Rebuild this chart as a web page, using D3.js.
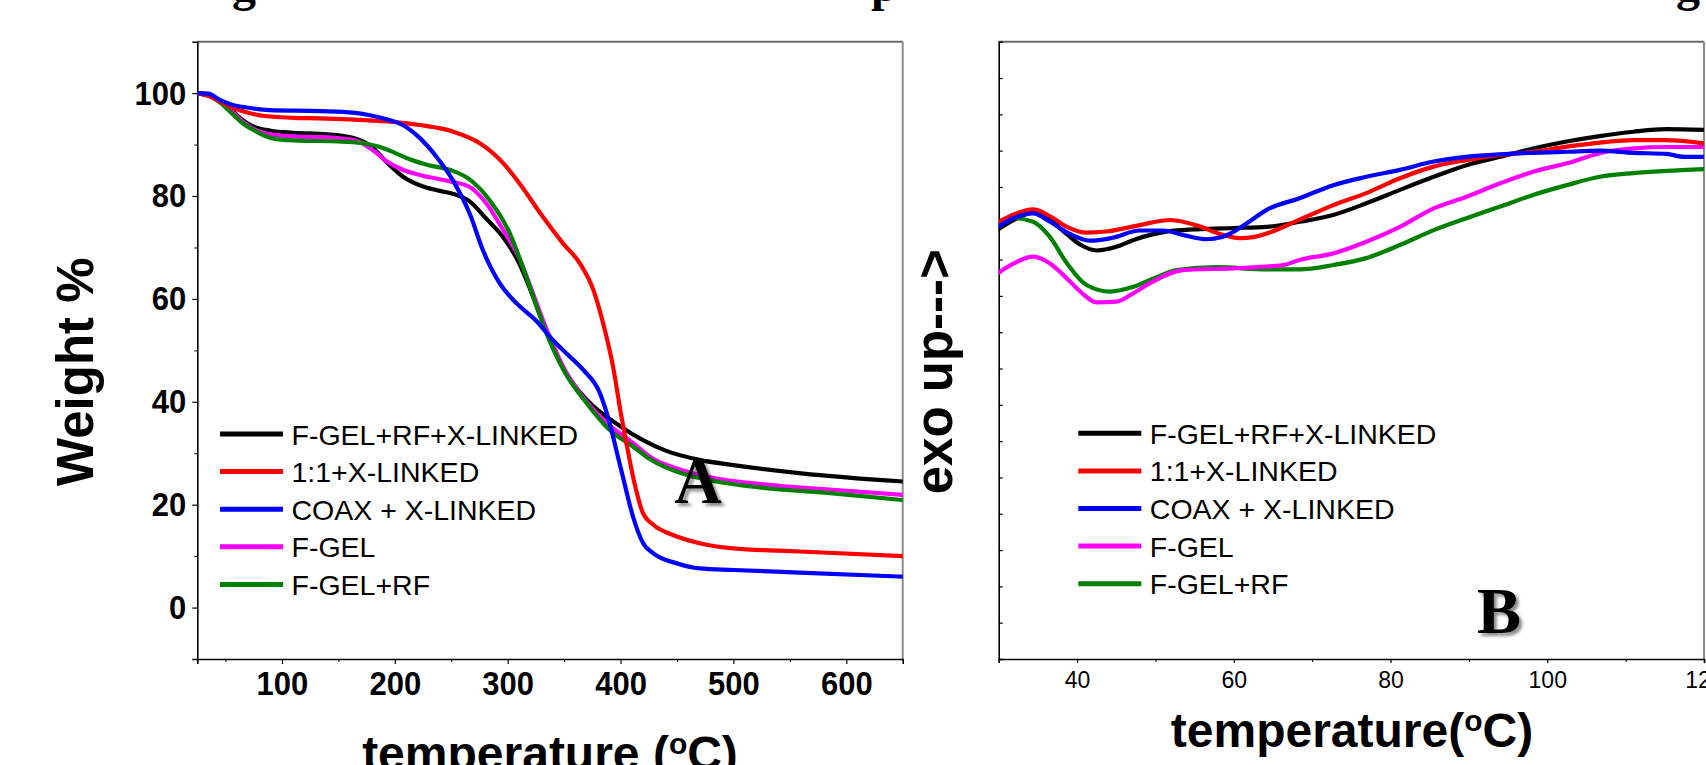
<!DOCTYPE html>
<html>
<head>
<meta charset="utf-8">
<script src="https://cdn.jsdelivr.net/npm/d3@7"></script>
<style>
  html, body { margin: 0; padding: 0; background: #fff; }
  svg { display: block; }
</style>
</head>
<body>
<svg id="chart" width="1706" height="765"></svg>
<script>
// ---------------- DATA ----------------
const seriesNames = ["F-GEL+RF+X-LINKED", "1:1+X-LINKED", "COAX + X-LINKED", "F-GEL", "F-GEL+RF"];
const seriesColors = ["#000000", "#ff0000", "#0000ff", "#ff00ff", "#008000"];

// Panel A : TGA, [temperature °C, weight %]
const tgaBlack = [[25,100],[35,99.5],[45,98.5],[55,96.8],[65,94.8],[75,93.5],[90,92.7],[110,92.3],[140,92],[165,91.2],[180,89.5],[193,86.5],[207,83.8],[222,82.1],[240,81],[252,80.4],[266,79],[281,75.6],[296,72],[310,67],[317,63.5],[335,53.3],[350,46.2],[370,40.4],[400,35.2],[440,30.5],[470,28.7],[500,27.7],[560,26.1],[650,24.5]];
const tgaRed = [[25,100],[35,99.5],[45,98.4],[54,97.4],[70,96.2],[83,95.6],[110,95.2],[134,95.1],[160,94.9],[193,94.5],[222,93.8],[252,92.5],[275,90.3],[296,86.4],[311,82.3],[331,76],[349,70.8],[364,66.9],[376,61.7],[384.5,55.3],[393.4,46.8],[400.8,37.1],[405,32.2],[411,25.5],[420,18.3],[429,16.1],[446.5,14.1],[470,12.5],[500,11.5],[559,10.9],[650,10.0]];
const tgaBlue = [[25,100],[34.6,99.9],[45,98.7],[55,97.8],[69,97.2],[89,96.7],[134,96.5],[163,96.2],[178,95.7],[193,94.9],[207,93.8],[222,91.3],[237,87.6],[251.6,83],[266.5,76.5],[278,69.5],[293,63],[310,58.7],[325,55.8],[340,52],[355,48.8],[367,46.2],[381.7,41.7],[390.4,35.8],[396.3,30.6],[402,25.5],[411,17.7],[420,12.5],[428.8,10.6],[449.5,8.6],[470,7.6],[500,7.3],[558.6,6.8],[650,6.0]];
const tgaMagenta = [[25,100],[35,99.5],[45,98.3],[55,96.5],[65,94.5],[75,93],[90,92],[110,91.6],[140,91.4],[165,90.8],[180,89],[193,86.7],[207,85.1],[222,84.1],[250,82.8],[266,81.8],[281,78.6],[296,73.4],[311,67.6],[320,62.5],[335,53.8],[350,46.5],[370,40],[390,35.5],[411,32],[426,29.3],[458,26.5],[485,25.1],[529,23.9],[588,22.9],[650,21.9]];
const tgaGreen = [[25,100],[35,99.6],[45,98.2],[55,96.2],[65,94.2],[75,92.8],[90,91.3],[110,90.8],[150,90.6],[170,90.3],[190,89.3],[200,88.4],[215,87],[230,86],[250,85],[266.5,83.2],[284,79.2],[301.8,72.8],[316.5,64.3],[334.4,53.3],[349.5,46.2],[370,39.7],[390.4,34.5],[411,31.3],[425.8,28.9],[458.3,25.8],[485,24.5],[529,23.2],[588,22.2],[650,20.9]];

// Panel B : DSC, [temperature °C, heat flow (a.u., exo up)]
const dscBlack = [[30,11.84],[32,12.1],[34.4,12.29],[36.5,12.1],[38.7,11.7],[40.5,11.4],[42.5,11.25],[45,11.35],[47.2,11.54],[51.4,11.77],[55.7,11.84],[60,11.87],[64.2,11.9],[68.4,12.04],[72.7,12.23],[76.9,12.55],[81.2,12.92],[85.5,13.28],[89.7,13.6],[94,13.83],[98.2,14.06],[102.5,14.25],[106.7,14.4],[111,14.52],[115.2,14.59],[120,14.57]];
const dscRed = [[30,12.04],[32,12.25],[34.4,12.38],[36.5,12.2],[38.7,11.9],[41.2,11.74],[44,11.78],[48,11.95],[51.9,12.09],[55.7,11.91],[58,11.72],[60.8,11.59],[62.5,11.62],[64.2,11.72],[68.4,12.1],[72.7,12.5],[76.9,12.83],[81.2,13.24],[85.5,13.56],[89.7,13.74],[94,13.88],[98.2,13.97],[102.5,14.11],[106.7,14.22],[111,14.29],[115.2,14.29],[120,14.2]];
const dscBlue = [[30,11.91],[32,12.15],[34.4,12.27],[36.5,12.05],[38.7,11.75],[41.7,11.52],[44.5,11.6],[48,11.8],[51,11.8],[53.5,11.68],[56.5,11.56],[58.5,11.62],[60,11.77],[62,12.05],[64.2,12.37],[68.4,12.69],[72.7,13.05],[76.9,13.28],[81.2,13.47],[85.5,13.7],[89.7,13.83],[94,13.9],[98.2,13.94],[102.5,13.97],[106.7,14.0],[111,13.94],[115.2,13.91],[117.5,13.83],[120,13.83]];
const dscMagenta = [[30,10.64],[32,10.9],[34.4,11.08],[36.5,10.9],[38.7,10.48],[40.5,10.1],[42.5,9.82],[45,9.84],[47,10.05],[49.3,10.35],[53.5,10.71],[60,10.76],[66.3,10.85],[68.4,10.99],[72.7,11.17],[76.9,11.49],[81.2,11.9],[85.5,12.41],[89.7,12.73],[94,13.1],[98.2,13.42],[102.5,13.65],[106.7,13.93],[111,14.06],[115.2,14.1],[120,14.1]];
const dscGreen = [[30,12.02],[31.9,12.14],[34.4,12.04],[36.5,11.63],[38.7,10.9],[41.2,10.3],[44.2,10.12],[47.2,10.25],[50,10.5],[52.7,10.71],[57.8,10.79],[64.2,10.73],[68.4,10.73],[72.7,10.85],[76.9,11.04],[81.2,11.4],[85.5,11.81],[89.7,12.14],[94,12.46],[98.2,12.78],[102.5,13.05],[106.7,13.28],[111,13.38],[115.2,13.44],[120,13.49]];

// Axis ticks
const aXTicks = [100, 200, 300, 400, 500, 600];
const aXMinor = [50, 150, 250, 350, 450, 550];
const aYTicks = [0, 20, 40, 60, 80, 100];
const aYMinor = [10, 30, 50, 70, 90];
const bXTicks = [40, 60, 80, 100, 120];
const bXMinor = [50, 70, 90, 110];
const bYTicks = [1,2,3,4,5,6,7,8,9,10,11,12,13,14,15,16];

// Caption fragments (cut-off line above the figure)
const captionBits = [["g", 244, "middle"], ["p", 871, "start"], ["g", 1688, "middle"]];

// ---------------- DRAW ----------------
const svg = d3.select("#chart");
const SANS = "'Liberation Sans', Arial, sans-serif";
const SERIF = "'Liberation Serif', 'Times New Roman', serif";

const defs = svg.append("defs");
const f = defs.append("filter").attr("id", "shadow").attr("x", "-20%").attr("y", "-20%").attr("width", "150%").attr("height", "150%");
f.append("feDropShadow").attr("dx", 3).attr("dy", 3).attr("stdDeviation", 1.8)
  .attr("flood-color", "#000").attr("flood-opacity", 0.45);

// caption fragments
svg.append("g").selectAll("text").data(captionBits).join("text")
  .attr("x", d => d[1]).attr("y", 1)
  .attr("text-anchor", d => d[2])
  .attr("font-family", SERIF).attr("font-weight", "bold").attr("font-size", 48)
  .text(d => d[0]);

function panel(opts) {
  const { left, right, top, bottom, xDomain, yDomain, series, id } = opts;
  const x = d3.scaleLinear().domain(xDomain).range([left, right]);
  const y = d3.scaleLinear().domain(yDomain).range([bottom, top]);
  const g = svg.append("g");

  defs.append("clipPath").attr("id", "clip" + id)
    .append("rect").attr("x", left).attr("y", top).attr("width", right - left).attr("height", bottom - top);

  // frame top/right (gray)
  g.append("line").attr("x1", left).attr("x2", right).attr("y1", top).attr("y2", top)
    .attr("stroke", "#6a6a6a").attr("stroke-width", 2);
  g.append("line").attr("x1", right).attr("x2", right).attr("y1", top).attr("y2", bottom)
    .attr("stroke", "#8a8a8a").attr("stroke-width", 2);

  // x axis
  const xa = g.append("g").attr("transform", `translate(0,${bottom})`)
    .call(d3.axisBottom(x).tickValues(opts.xTicks).tickSize(opts.xTickLen).tickPadding(opts.xPad).tickFormat(d3.format("d")));
  xa.select(".domain").attr("stroke", "#000").attr("stroke-width", 1.6);
  xa.selectAll(".tick line").attr("stroke", "#000").attr("stroke-width", 1.2);
  xa.selectAll("text").attr("font-family", SANS).attr("font-size", opts.tickFont)
    .attr("font-weight", opts.tickWeight).attr("fill", "#000")
    .attr("dy", null).attr("y", opts.xLabelY / opts.tickScale)
    .attr("transform", `scale(1,${opts.tickScale})`);
  g.append("g").attr("transform", `translate(0,${bottom})`)
    .call(d3.axisBottom(x).tickValues(opts.xMinor).tickSize(3).tickFormat(""))
    .call(s => s.select(".domain").remove())
    .selectAll(".tick line").attr("stroke", "#000").attr("stroke-width", 1);

  // y axis
  const ya = g.append("g").attr("transform", `translate(${left},0)`)
    .call(d3.axisLeft(y).tickValues(opts.yTicks).tickSize(opts.yTickLen).tickPadding(opts.yPad)
      .tickFormat(opts.yLabels ? d3.format("d") : ""));
  ya.select(".domain").attr("stroke", "#000").attr("stroke-width", 1.6);
  ya.selectAll(".tick line").attr("stroke", "#000").attr("stroke-width", 1.2);
  ya.selectAll("text").attr("font-family", SANS).attr("font-size", opts.tickFont)
    .attr("font-weight", "bold").attr("fill", "#000")
    .attr("transform", `scale(1,${opts.tickScale})`);
  if (opts.yMinor) {
    g.append("g").attr("transform", `translate(${left},0)`)
      .call(d3.axisLeft(y).tickValues(opts.yMinor).tickSize(3).tickFormat(""))
      .call(s => s.select(".domain").remove())
      .selectAll(".tick line").attr("stroke", "#000").attr("stroke-width", 1);
  }

  // lines
  const line = d3.line().x(d => x(d[0])).y(d => y(d[1])).curve(d3.curveMonotoneX);
  const lg = g.append("g").attr("clip-path", `url(#clip${id})`);
  opts.order.forEach(i => {
    lg.append("path").datum(series[i]).attr("d", line)
      .attr("fill", "none").attr("stroke", seriesColors[i]).attr("stroke-width", 4.2)
      .attr("stroke-linejoin", "round").attr("stroke-linecap", "round");
  });

  // legend
  const leg = g.append("g");
  seriesNames.forEach((name, i) => {
    const yy = opts.legY + i * 37.6;
    leg.append("line").attr("x1", opts.legX).attr("x2", opts.legX + 63).attr("y1", yy).attr("y2", yy)
      .attr("stroke", seriesColors[i]).attr("stroke-width", 5);
    leg.append("text").attr("x", opts.legX + 71.5).attr("y", yy + 10.5)
      .attr("font-family", SANS).attr("font-size", 28.5).attr("fill", "#000").text(name);
  });

  // panel letter
  g.append("text").attr("x", opts.letterX).attr("y", opts.letterY).attr("text-anchor", "middle")
    .attr("font-family", SERIF).attr("font-weight", "bold").attr("font-size", 66)
    .attr("filter", "url(#shadow)").text(opts.letter);

  return { x, y, g };
}

panel({
  id: "A", left: 197.3, right: 902.7, top: 41.7, bottom: 659,
  xDomain: [25, 650], yDomain: [-10, 110],
  series: [tgaBlack, tgaRed, tgaBlue, tgaMagenta, tgaGreen],
  order: [0, 3, 4, 1, 2],
  xTicks: aXTicks, xMinor: aXMinor, yTicks: aYTicks, yMinor: aYMinor,
  xTickLen: 5, yTickLen: 5, xPad: 6, yPad: 6, tickFont: 31, tickScale: 1.1, xLabelY: 36,
  tickWeight: "bold", yLabels: true,
  legX: 220, legY: 434, letter: "A", letterX: 698, letterY: 503
});

panel({
  id: "B", left: 998.7, right: 1704, top: 41.7, bottom: 659,
  xDomain: [30, 120], yDomain: [0, 17],
  series: [dscBlack, dscRed, dscBlue, dscMagenta, dscGreen],
  order: [0, 4, 3, 1, 2],
  xTicks: bXTicks, xMinor: bXMinor, yTicks: bYTicks, yMinor: null,
  xTickLen: 4, yTickLen: -4, xPad: 6, yPad: 5, tickFont: 23, tickScale: 1, xLabelY: 29,
  tickWeight: "normal", yLabels: false,
  legX: 1078.3, legY: 433.3, letter: "B", letterX: 1499, letterY: 633
});

// axis titles
svg.append("text").attr("transform", "translate(92.7,371.7) rotate(-90)")
  .attr("text-anchor", "middle").attr("font-family", SANS).attr("font-weight", "bold")
  .attr("font-size", 51).text("Weight %");
svg.append("text").attr("transform", "translate(951.5,371.7) rotate(-90)")
  .attr("text-anchor", "middle").attr("font-family", SANS).attr("font-weight", "bold")
  .attr("font-size", 51).text("exo up--->");

const tA = svg.append("text").attr("x", 550).attr("y", 770).attr("text-anchor", "middle")
  .attr("font-family", SANS).attr("font-weight", "bold").attr("font-size", 48);
tA.append("tspan").text("temperature (");
tA.append("tspan").attr("font-size", 30).attr("dy", -16).text("o");
tA.append("tspan").attr("dy", 16).text("C)");

const tB = svg.append("text").attr("x", 1352).attr("y", 746.7).attr("text-anchor", "middle")
  .attr("font-family", SANS).attr("font-weight", "bold").attr("font-size", 48);
tB.append("tspan").text("temperature(");
tB.append("tspan").attr("font-size", 30).attr("dy", -16).text("o");
tB.append("tspan").attr("dy", 16).text("C)");
</script>
</body>
</html>
